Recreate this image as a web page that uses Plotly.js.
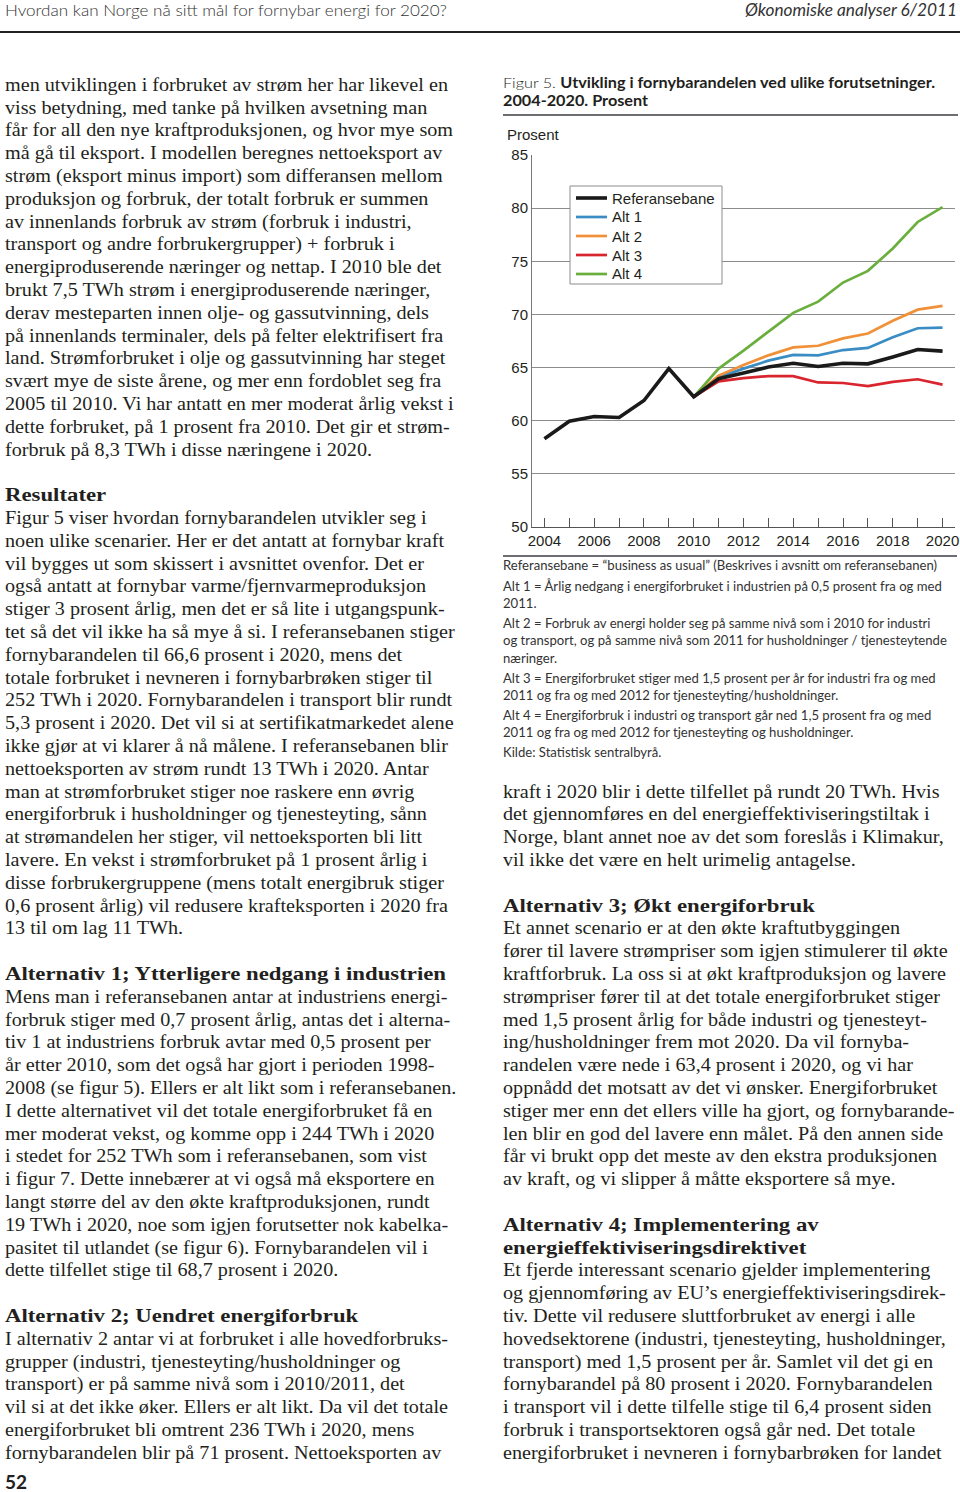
<!DOCTYPE html>
<html><head><meta charset="utf-8">
<script src="https://cdn.plot.ly/plotly-3.0.1.min.js"></script>
<style>
html,body{margin:0;padding:0;background:#fff;}
body{width:960px;height:1492px;position:relative;overflow:hidden;color:#231f20;}
.t{position:absolute;left:0;top:0;white-space:nowrap;transform-origin:0 0;line-height:normal;}
.rule{position:absolute;}
</style></head><body>
<div class="rule" style="left:0;top:31px;width:960px;height:2px;background:#231f20"></div>
<div class="rule" style="left:503px;top:114px;width:455px;height:2px;background:#6d6e71"></div>
<div class="rule" style="left:503px;top:555px;width:454px;height:2px;background:#6d6e71"></div>
<div id="chart" style="position:absolute;left:500px;top:120px;width:460px;height:440px;"></div>
<script>
// ---------- chart data ----------
const years = [2004,2005,2006,2007,2008,2009,2010,2011,2012,2013,2014,2015,2016,2017,2018,2019,2020];
const refValues = [58.3,59.95,60.4,60.3,61.9,64.9,62.25,63.95,64.5,65.05,65.4,65.1,65.4,65.35,66.0,66.7,66.55];
const altYears = [2010,2011,2012,2013,2014,2015,2016,2017,2018,2019,2020];
const alt1Values = [62.25,64.1,64.9,65.65,66.2,66.15,66.65,66.85,67.85,68.7,68.75];
const alt2Values = [62.25,64.25,65.25,66.15,66.9,67.05,67.75,68.2,69.4,70.45,70.8];
const alt3Values = [62.25,63.7,64.0,64.2,64.2,63.6,63.55,63.25,63.65,63.9,63.4];
const alt4Values = [62.25,64.9,66.6,68.4,70.15,71.2,73.0,74.1,76.2,78.7,80.1];
const seriesNames = ["Referansebane","Alt 1","Alt 2","Alt 3","Alt 4"];
const seriesColors = ["#1a1a1a","#3a8dc4","#f0913a","#d9252e","#6aaf3d"];
const yAxisLabel = "Prosent";

// ---------- page text ----------
const headerLeft = "Hvordan kan Norge nå sitt mål for fornybar energi for 2020?";
const headerRight = "Økonomiske analyser 6/2011";
const captionLight = "Figur 5. ";
const captionBold1 = "Utvikling i fornybarandelen ved ulike forutsetninger.";
const captionBold2 = "2004-2020. Prosent";
const noteLines = [
 "Referansebane = “business as usual” (Beskrives i avsnitt om referansebanen)",
 "Alt 1 = Årlig nedgang i energiforbruket i industrien på 0,5 prosent fra og med",
 "2011.",
 "Alt 2 = Forbruk av energi holder seg på samme nivå som i 2010 for industri",
 "og transport, og på samme nivå som 2011 for husholdninger / tjenesteytende",
 "næringer.",
 "Alt 3 = Energiforbruket stiger med 1,5 prosent per år for industri fra og med",
 "2011 og fra og med 2012 for tjenesteyting/husholdninger.",
 "Alt 4 = Energiforbruk i industri og transport går ned 1,5 prosent fra og med",
 "2011 og fra og med 2012 for tjenesteyting og husholdninger.",
 "Kilde: Statistisk sentralbyrå."
];
const noteBaselines = [570,591,608,628,645,663,683,700,720,737,757];
const pageNumber = "52";
// '#' prefix = heading line, '' = blank line
const leftColumnLines = [
 "men utviklingen i forbruket av strøm her har likevel en",
 "viss betydning, med tanke på hvilken avsetning man",
 "får for all den nye kraftproduksjonen, og hvor mye som",
 "må gå til eksport. I modellen beregnes nettoeksport av",
 "strøm (eksport minus import) som differansen mellom",
 "produksjon og forbruk, der totalt forbruk er summen",
 "av innenlands forbruk av strøm (forbruk i industri,",
 "transport og andre forbrukergrupper) + forbruk i",
 "energiproduserende næringer og nettap. I 2010 ble det",
 "brukt 7,5 TWh strøm i energiproduserende næringer,",
 "derav mesteparten innen olje- og gassutvinning, dels",
 "på innenlands terminaler, dels på felter elektrifisert fra",
 "land. Strømforbruket i olje og gassutvinning har steget",
 "svært mye de siste årene, og mer enn fordoblet seg fra",
 "2005 til 2010. Vi har antatt en mer moderat årlig vekst i",
 "dette forbruket, på 1 prosent fra 2010. Det gir et strøm-",
 "forbruk på 8,3 TWh i disse næringene i 2020.",
 "",
 "#Resultater",
 "Figur 5 viser hvordan fornybarandelen utvikler seg i",
 "noen ulike scenarier. Her er det antatt at fornybar kraft",
 "vil bygges ut som skissert i avsnittet ovenfor. Det er",
 "også antatt at fornybar varme/fjernvarmeproduksjon",
 "stiger 3 prosent årlig, men det er så lite i utgangspunk-",
 "tet så det vil ikke ha så mye å si. I referansebanen stiger",
 "fornybarandelen til 66,6 prosent i 2020, mens det",
 "totale forbruket i nevneren i fornybarbrøken stiger til",
 "252 TWh i 2020. Fornybarandelen i transport blir rundt",
 "5,3 prosent i 2020. Det vil si at sertifikatmarkedet alene",
 "ikke gjør at vi klarer å nå målene. I referansebanen blir",
 "nettoeksporten av strøm rundt 13 TWh i 2020. Antar",
 "man at strømforbruket stiger noe raskere enn øvrig",
 "energiforbruk i husholdninger og tjenesteyting, sånn",
 "at strømandelen her stiger, vil nettoeksporten bli litt",
 "lavere. En vekst i strømforbruket på 1 prosent årlig i",
 "disse forbrukergruppene (mens totalt energibruk stiger",
 "0,6 prosent årlig) vil redusere krafteksporten i 2020 fra",
 "13 til om lag 11 TWh.",
 "",
 "#Alternativ 1; Ytterligere nedgang i industrien",
 "Mens man i referansebanen antar at industriens energi-",
 "forbruk stiger med 0,7 prosent årlig, antas det i alterna-",
 "tiv 1 at industriens forbruk avtar med 0,5 prosent per",
 "år etter 2010, som det også har gjort i perioden 1998-",
 "2008 (se figur 5). Ellers er alt likt som i referansebanen.",
 "I dette alternativet vil det totale energiforbruket få en",
 "mer moderat vekst, og komme opp i 244 TWh i 2020",
 "i stedet for 252 TWh som i referansebanen, som vist",
 "i figur 7. Dette innebærer at vi også må eksportere en",
 "langt større del av den økte kraftproduksjonen, rundt",
 "19 TWh i 2020, noe som igjen forutsetter nok kabelka-",
 "pasitet til utlandet (se figur 6). Fornybarandelen vil i",
 "dette tilfellet stige til 68,7 prosent i 2020.",
 "",
 "#Alternativ 2; Uendret energiforbruk",
 "I alternativ 2 antar vi at forbruket i alle hovedforbruks-",
 "grupper (industri, tjenesteyting/husholdninger og",
 "transport) er på samme nivå som i 2010/2011, det",
 "vil si at det ikke øker. Ellers er alt likt. Da vil det totale",
 "energiforbruket bli omtrent 236 TWh i 2020, mens",
 "fornybarandelen blir på 71 prosent. Nettoeksporten av"
];
const rightColumnStart = 31;
const rightColumnLines = [
 "kraft i 2020 blir i dette tilfellet på rundt 20 TWh. Hvis",
 "det gjennomføres en del energieffektiviseringstiltak i",
 "Norge, blant annet noe av det som foreslås i Klimakur,",
 "vil ikke det være en helt urimelig antagelse.",
 "",
 "#Alternativ 3; Økt energiforbruk",
 "Et annet scenario er at den økte kraftutbyggingen",
 "fører til lavere strømpriser som igjen stimulerer til økte",
 "kraftforbruk. La oss si at økt kraftproduksjon og lavere",
 "strømpriser fører til at det totale energiforbruket stiger",
 "med 1,5 prosent årlig for både industri og tjenesteyt-",
 "ing/husholdninger frem mot 2020. Da vil fornyba-",
 "randelen være nede i 63,4 prosent i 2020, og vi har",
 "oppnådd det motsatt av det vi ønsker. Energiforbruket",
 "stiger mer enn det ellers ville ha gjort, og fornybarande-",
 "len blir en god del lavere enn målet. På den annen side",
 "får vi brukt opp det meste av den ekstra produksjonen",
 "av kraft, og vi slipper å måtte eksportere så mye.",
 "",
 "#Alternativ 4; Implementering av",
 "#energieffektiviseringsdirektivet",
 "Et fjerde interessant scenario gjelder implementering",
 "og gjennomføring av EU’s energieffektiviseringsdirek-",
 "tiv. Dette vil redusere sluttforbruket av energi i alle",
 "hovedsektorene (industri, tjenesteyting, husholdninger,",
 "transport) med 1,5 prosent per år. Samlet vil det gi en",
 "fornybarandel på 80 prosent i 2020. Fornybarandelen",
 "i transport vil i dette tilfelle stige til 6,4 prosent siden",
 "forbruk i transportsektoren også går ned. Det totale",
 "energiforbruket i nevneren i fornybarbrøken for landet"
];

// ---------- text helpers ----------
const SERIF = '"Liberation Serif", serif';
const SANS = 'Lato, "Open Sans", sans-serif';
function make(parts, font, color) {
  const d = document.createElement('div');
  d.className = 't';
  d.style.font = font;
  d.style.color = color || '#231f20';
  parts.forEach(p => {
    const s = document.createElement('span');
    s.textContent = p.text;
    if (p.style) s.style.cssText = p.style;
    d.appendChild(s);
  });
  const m = document.createElement('span');
  m.style.cssText = 'display:inline-block;width:0;height:0;';
  d.appendChild(m);
  document.body.appendChild(d);
  d._marker = m;
  return d;
}
function natW(d) { return d.getBoundingClientRect().width; }
function place(d, x, baseline, scale, alignRight) {
  const base = d._marker.offsetTop;
  const w = natW(d);
  d.style.top = (baseline - base) + 'px';
  d.style.left = (alignRight ? x - w * scale : x) + 'px';
  d.style.transform = 'scaleX(' + scale + ')';
}
function fitScale(text, font, target) {
  const d = make([{text}], font);
  const s = target / natW(d);
  d.remove();
  return s;
}

const bodyFont = '19.5px ' + SERIF;
const headFont = 'bold 19.5px ' + SERIF;
const bodyScale = fitScale(leftColumnLines[0], bodyFont, 443);
const headScale = fitScale("Alternativ 1; Ytterligere nedgang i industrien", headFont, 441);
const LINE0 = 90.7, STEP = 22.8;
function column(lines, x, k0) {
  lines.forEach((ln, i) => {
    if (!ln) return;
    const isHead = ln[0] === '#';
    const txt = isHead ? ln.slice(1) : ln;
    const d = make([{text: txt}], isHead ? headFont : bodyFont);
    place(d, x, LINE0 + STEP * (k0 + i), isHead ? headScale : bodyScale);
  });
}
column(leftColumnLines, 5, 0);
column(rightColumnLines, 503, rightColumnStart);

// header
{
  const f = '300 16.5px ' + SANS;
  const d = make([{text: headerLeft}], f, '#333');
  place(d, 5, 16, 442 / natW(d));
  const f2 = 'italic 16.5px ' + SANS;
  const d2 = make([{text: headerRight}], f2, '#333');
  place(d2, 957, 16, 212 / natW(d2), true);
}
// caption
{
  const f = '14.5px ' + SANS;
  const d = make([{text: captionLight, style: 'font-weight:300'}, {text: captionBold1, style: 'font-weight:bold'}], f, '#231f20');
  const s = 432 / natW(d);
  place(d, 503, 88, s);
  const d2 = make([{text: captionBold2, style: 'font-weight:bold'}], f, '#231f20');
  place(d2, 503, 106, s);
}
// notes
{
  const f = '13px ' + SANS;
  const ns = fitScale(noteLines[0], f, 434);
  noteLines.forEach((t, i) => {
    const d = make([{text: t}], f, '#333');
    place(d, 503, noteBaselines[i], ns);
  });
}
// page number
{
  const d = make([{text: pageNumber}], 'bold 19px ' + SANS, '#231f20');
  place(d, 5, 1489, 1);
}

// ---------- chart ----------
const seriesX = [years, altYears, altYears, altYears, altYears];
const seriesY = [refValues, alt1Values, alt2Values, alt3Values, alt4Values];
const lineWidths = [3.6, 2.7, 2.7, 2.7, 2.7];
const traces = [];
[1,2,3,4,0].forEach(i => {
  traces.push({
    type: 'scatter', mode: 'lines',
    x: seriesX[i], y: seriesY[i], name: seriesNames[i],
    line: {color: seriesColors[i], width: lineWidths[i], shape: 'linear'},
    hoverinfo: 'skip', showlegend: false
  });
});
const PL = 32, PT = 35, PW = 423, PH = 372;
// page-pixel helpers for the legend panel (paper coordinates)
const px = X => (X - (500 + PL)) / PW;
const py = Y => 1 - (Y - (120 + PT)) / PH;
const shapes = [{
  type: 'rect', xref: 'paper', yref: 'paper', layer: 'above',
  x0: px(570), x1: px(722), y0: py(284), y1: py(186),
  fillcolor: '#ffffff', line: {color: '#8c8c8c', width: 1}
}];
const annotations = [{
  text: yAxisLabel, xref: 'paper', yref: 'paper',
  x: px(505), y: py(134), xanchor: 'left', yanchor: 'middle',
  showarrow: false, font: {size: 15}
}];
seriesNames.forEach((name, i) => {
  const yc = 198 + 19 * i;
  shapes.push({
    type: 'line', xref: 'paper', yref: 'paper', layer: 'above',
    x0: px(576), x1: px(607), y0: py(yc), y1: py(yc),
    line: {color: seriesColors[i], width: lineWidths[i]}
  });
  annotations.push({
    text: name, xref: 'paper', yref: 'paper',
    x: px(610), y: py(yc), xanchor: 'left', yanchor: 'middle',
    showarrow: false, font: {size: 15}
  });
});
const layout = {
  width: 460, height: 440,
  margin: {l: PL, r: 460 - PL - PW, t: PT, b: 440 - PT - PH, pad: 0},
  paper_bgcolor: 'rgba(0,0,0,0)', plot_bgcolor: 'rgba(0,0,0,0)',
  font: {family: '"Liberation Sans", Arial, sans-serif', size: 15, color: '#231f20'},
  showlegend: false,
  xaxis: {
    range: [2003.5, 2020.5], tick0: 2004, dtick: 2,
    ticks: 'inside', ticklen: 9, tickwidth: 1, tickcolor: '#555',
    showgrid: false, zeroline: false, showline: true, linecolor: '#555', linewidth: 1.3,
    minor: {dtick: 1, tick0: 2004, ticks: 'inside', ticklen: 9, tickwidth: 1, tickcolor: '#555', showgrid: false},
    tickfont: {size: 15}, fixedrange: true
  },
  yaxis: {
    range: [50, 85], tick0: 50, dtick: 5,
    ticks: '', showgrid: true, gridcolor: '#8c8c8c', gridwidth: 1,
    zeroline: false, showline: true, linecolor: '#777', linewidth: 1,
    tickfont: {size: 15}, fixedrange: true
  },
  shapes: shapes,
  annotations: annotations
};
Plotly.newPlot('chart', traces, layout, {staticPlot: true, displayModeBar: false});
</script>
</body></html>
